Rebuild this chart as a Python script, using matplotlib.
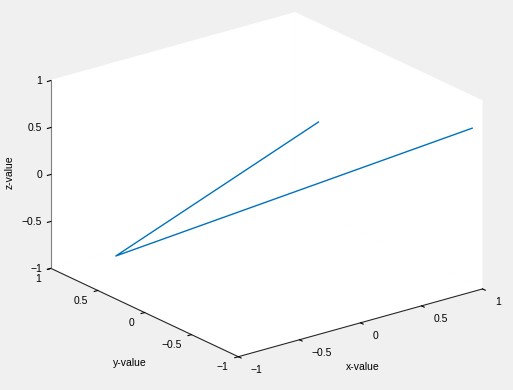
import matplotlib.pyplot as plt

# line data (one polyline)
x = [0.5, -0.53, 1.0]
y = [0.1, 0.92, -0.89]
z = [0.44, -1.0, 0.66]

ticks = [-1, -0.5, 0, 0.5, 1]
tick_labels = ['\u22121', '\u22120.5', '0', '0.5', '1']

plt.rcParams['font.family'] = ['Liberation Sans', 'DejaVu Sans']
plt.rcParams['font.size'] = 7.5

fig = plt.figure(figsize=(5.13, 3.90), dpi=100, facecolor='#f0f0f0')
ax = fig.add_axes([0.0097, 0.0128, 1.0, 1.0], projection='3d', proj_type='ortho')
ax.set_facecolor('#f0f0f0')
ax.view_init(elev=21.2, azim=-127.5)
ax.set_box_aspect((1, 1, 0.6546), zoom=1.194)

line, = ax.plot(x, y, z, color='#0072bd', lw=1)
line.set_clip_on(False)

ax.set_xlim(-1, 1)
ax.set_ylim(-1, 1)
ax.set_zlim(-1, 1)
for axis in (ax.xaxis, ax.yaxis, ax.zaxis):
    axis.set_ticks(ticks)
    axis.set_pane_color((1, 1, 1, 1))
    axis.pane.set_edgecolor('white')
    axis.line.set_color('#262626')
    axis._axinfo['tick']['inward_factor'] = 0.18
    axis._axinfo['tick']['outward_factor'] = 0.0
    axis._axinfo['tick']['color'] = '#262626'
ax.zaxis.line.set_color('#808080')
ax.grid(False)

# tick labels aligned like the original
ax.xaxis.set_ticklabels(tick_labels, ha='left', va='bottom')
ax.yaxis.set_ticklabels(tick_labels, ha='right', va='center')
ax.zaxis.set_ticklabels(tick_labels, ha='right', va='center_baseline')
ax.xaxis.set_tick_params(pad=1.8)
ax.yaxis.set_tick_params(pad=-2)
ax.zaxis.set_tick_params(pad=-5)

# axis titles placed as in the original (horizontal x/y, vertical z)
fig.text(0.7076, 0.059, 'x-value', ha='center', va='center')
fig.text(0.2534, 0.0705, 'y-value', ha='center', va='center')
fig.text(0.0195, 0.5577, 'z-value', ha='center', va='center', rotation=90)

plt.savefig('out.png', dpi=100, facecolor=fig.get_facecolor())
